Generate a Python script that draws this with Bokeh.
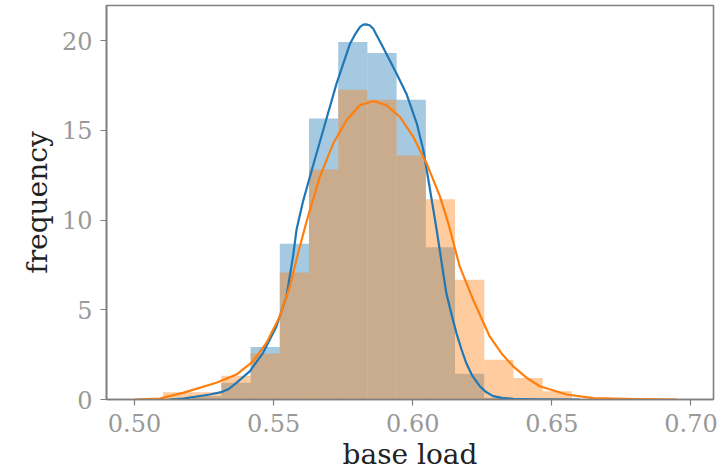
from bokeh.plotting import figure
from bokeh.models import Range1d, FixedTicker, NumeralTickFormatter
from bokeh.embed import file_html
from bokeh.resources import INLINE

# ---- data ----
bin_edges = [0.5102, 0.5207, 0.5312, 0.5417, 0.5522, 0.5627, 0.5732, 0.5837,
             0.5942, 0.6047, 0.6152, 0.6257, 0.6362, 0.6467, 0.6572]
blue_hist = [0.0, 0.2, 0.93, 2.93, 8.67, 15.65, 19.91, 19.3, 16.7, 8.48, 1.44, 0.1, 0.0, 0.0]
orange_hist = [0.4, 0.4, 1.33, 2.56, 7.07, 12.81, 17.26, 16.7, 13.6, 11.15, 6.67, 2.22, 1.2, 0.46]

blue_kde_x = [0.5126, 0.5174, 0.5230, 0.5270, 0.5312, 0.5340, 0.5366, 0.5414, 0.5462,
              0.5510, 0.5546, 0.5570, 0.5582, 0.5605, 0.5630, 0.5678, 0.5726, 0.5774,
              0.5795, 0.5810, 0.5822, 0.5832, 0.5845, 0.5858, 0.5894, 0.5942, 0.5978,
              0.6014, 0.6038, 0.6062, 0.6086, 0.6105, 0.6121, 0.6140, 0.6157, 0.6175,
              0.6193, 0.6215, 0.6241, 0.6265, 0.6289, 0.6320, 0.6360, 0.6450, 0.6600]
blue_kde_y = [0.0, 0.05, 0.18, 0.28, 0.41, 0.6, 0.93, 1.57, 2.6,
              4.07, 5.74, 8.0, 9.44, 11.0, 12.4, 15.0, 17.6, 19.8,
              20.4, 20.74, 20.88, 20.9, 20.85, 20.65, 19.6, 18.15, 17.0,
              15.4, 13.9, 11.7, 9.44, 7.5, 5.9, 4.7, 3.7, 2.8,
              2.0, 1.3, 0.74, 0.4, 0.19, 0.09, 0.04, 0.01, 0.0]

orange_kde_x = [0.5000, 0.5090, 0.5174, 0.5294, 0.5366, 0.5426, 0.5474, 0.5522, 0.5558,
                0.5588, 0.5618, 0.5666, 0.5714, 0.5762, 0.5810, 0.5858, 0.5906, 0.5954,
                0.6002, 0.6050, 0.6098, 0.6128, 0.6169, 0.6217, 0.6277, 0.6320, 0.6361,
                0.6410, 0.6457, 0.6553, 0.6650, 0.6800, 0.6950]
orange_kde_y = [0.0, 0.05, 0.37, 0.93, 1.39, 2.13, 3.15, 4.63, 6.3,
                8.15, 9.9, 12.4, 14.26, 15.56, 16.39, 16.63, 16.39, 15.74,
                14.63, 13.15, 11.3, 9.8, 7.4, 5.56, 3.5, 2.55, 1.85,
                1.2, 0.74, 0.28, 0.08, 0.02, 0.0]

x_ticks = [0.50, 0.55, 0.60, 0.65, 0.70]
y_ticks = [0, 5, 10, 15, 20]

BLUE = "#1f77b4"
ORANGE = "#ff7f0e"
FONT = "DejaVu Serif"

p = figure(width=720, height=473, output_backend="svg", toolbar_location=None,
           x_range=Range1d(0.48992, 0.7081), y_range=Range1d(0, 21.95),
           min_border_left=106, min_border_right=7, min_border_top=5,
           min_border_bottom=73)

p.quad(left=bin_edges[:-1], right=bin_edges[1:], bottom=0, top=blue_hist,
       fill_color=BLUE, fill_alpha=0.4, line_color=None)
p.quad(left=bin_edges[:-1], right=bin_edges[1:], bottom=0, top=orange_hist,
       fill_color=ORANGE, fill_alpha=0.4, line_color=None)
p.line(blue_kde_x, blue_kde_y, line_color=BLUE, line_width=2.2, line_join="round")
p.line(orange_kde_x, orange_kde_y, line_color=ORANGE, line_width=2.2, line_join="round")

p.xgrid.visible = False
p.ygrid.visible = False
p.background_fill_color = "white"
p.border_fill_color = "white"
p.outline_line_color = "#7f7f7f"
p.outline_line_width = 1.6

p.xaxis.ticker = FixedTicker(ticks=x_ticks)
p.xaxis.formatter = NumeralTickFormatter(format="0.00")
p.yaxis.ticker = FixedTicker(ticks=y_ticks)
p.xaxis.axis_label = "base load"
p.yaxis.axis_label = "frequency"

for ax in (p.xaxis[0], p.yaxis[0]):
    ax.axis_line_color = "#7f7f7f"
    ax.axis_line_width = 1.6
    ax.major_tick_line_color = "#7f7f7f"
    ax.major_tick_line_width = 1.2
    ax.major_tick_out = 6
    ax.major_tick_in = 0
    ax.minor_tick_line_color = None
    ax.major_label_text_font = FONT
    ax.major_label_text_font_size = "24px"
    ax.major_label_text_color = "#999999"
    ax.axis_label_text_font = FONT
    ax.axis_label_text_font_size = "28px"
    ax.axis_label_text_font_style = "normal"
    ax.axis_label_text_color = "#222222"

p.xaxis.major_label_standoff = 8
p.yaxis.major_label_standoff = 8
p.xaxis.axis_label_standoff = 3
p.yaxis.axis_label_standoff = 5

open("out.html", "w").write(file_html(p, INLINE))
